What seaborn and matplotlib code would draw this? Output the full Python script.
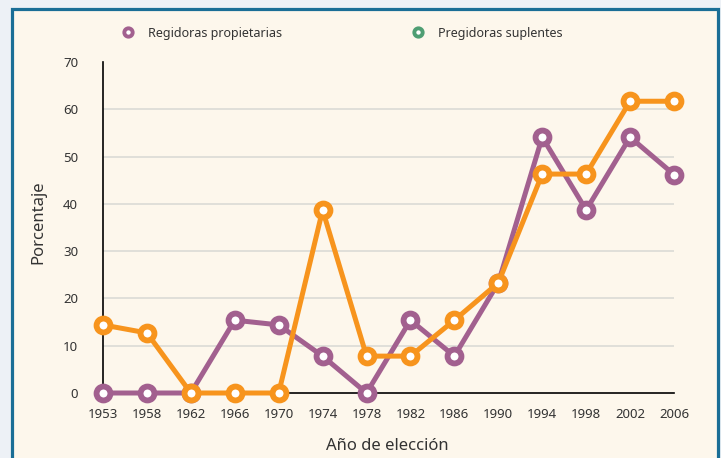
import matplotlib.pyplot as plt
import numpy as np
import pandas as pd
import seaborn as sns
from matplotlib.lines import Line2D
from matplotlib.patches import Rectangle

years = ["1953", "1958", "1962", "1966", "1970", "1974", "1978",
         "1982", "1986", "1990", "1994", "1998", "2002", "2006"]
propietarias = [0, 0, 0, 15.4, 14.4, 7.8, 0, 15.4, 7.8, 23.3, 54.1, 38.7, 54.1, 46.2]
suplentes = [14.4, 12.7, 0, 0, 0, 38.7, 7.8, 7.8, 15.4, 23.3, 46.3, 46.3, 61.7, 61.7]

series_names = ["Regidoras propietarias", "Pregidoras suplentes"]
line_colors = ["#a2608f", "#f7941d"]
legend_colors = ["#a2608f", "#4f9e73"]

sns.set_style("white")
plt.rcParams["font.family"] = ["Noto Sans", "DejaVu Sans"]

df = pd.DataFrame({
    "pos": np.tile(np.arange(len(years)), 2),
    "valor": propietarias + suplentes,
    "serie": np.repeat(series_names, len(years)),
})

fig = plt.figure(figsize=(7.21, 4.58), dpi=100)
fig.patch.set_facecolor("#edf1f6")
# cream panel with teal border
fig.patches.append(Rectangle((11.5 / 721, -0.05), 706 / 721, 1 - 9.5 / 458 + 0.05,
                             transform=fig.transFigure, facecolor="#fdf7ec",
                             edgecolor="#1a6e96", linewidth=2.3, zorder=-5))

ax = fig.add_axes([103 / 721, 1 - 393 / 458, 571 / 721, 331 / 458])
ax.set_facecolor("none")
ax.set_zorder(2)

for name, col in zip(series_names, line_colors):
    sns.lineplot(data=df[df["serie"] == name], x="pos", y="valor", ax=ax,
                 color=col, linewidth=3.6, marker="o", markersize=10,
                 markerfacecolor="white", markeredgecolor=col,
                 markeredgewidth=4.2, clip_on=False, zorder=3)

ax.set_xlim(0, len(years) - 1)
ax.set_ylim(0, 70)
ax.set_xticks(range(len(years)))
ax.set_xticklabels(years)
ax.set_yticks(range(0, 71, 10))
for yv in range(10, 61, 10):
    ax.axhline(yv, color="#d8d8d4", linewidth=1.1, zorder=1)

for s in ["top", "right"]:
    ax.spines[s].set_visible(False)
for s in ["left", "bottom"]:
    ax.spines[s].set_color("black")
    ax.spines[s].set_linewidth(1.2)

ax.tick_params(axis="x", length=0, pad=10.5, labelsize=9.5, labelcolor="#333333")
ax.tick_params(axis="y", length=0, pad=18, labelsize=9.5, labelcolor="#333333")
ax.set_xlabel("")
ax.set_ylabel("")
fig.text(38 / 721, 1 - 222 / 458, "Porcentaje", rotation=90, ha="center",
         va="center", fontsize=12, color="#333333")
fig.text(387 / 721, 1 - 446 / 458, "Año de elección", ha="center",
         va="center", fontsize=12, color="#333333")

handles = [Line2D([], [], linestyle="none", marker="o", markersize=6,
                  markerfacecolor="white", markeredgecolor=c, markeredgewidth=2.8)
           for c in legend_colors]
fig.legend(handles, series_names, loc="center left", ncol=2,
           bbox_to_anchor=(104 / 721, 1 - 33 / 458), frameon=False,
           fontsize=9, handletextpad=0.6, columnspacing=9.9,
           labelcolor="#333333")

fig.savefig("out.png", dpi=100)
